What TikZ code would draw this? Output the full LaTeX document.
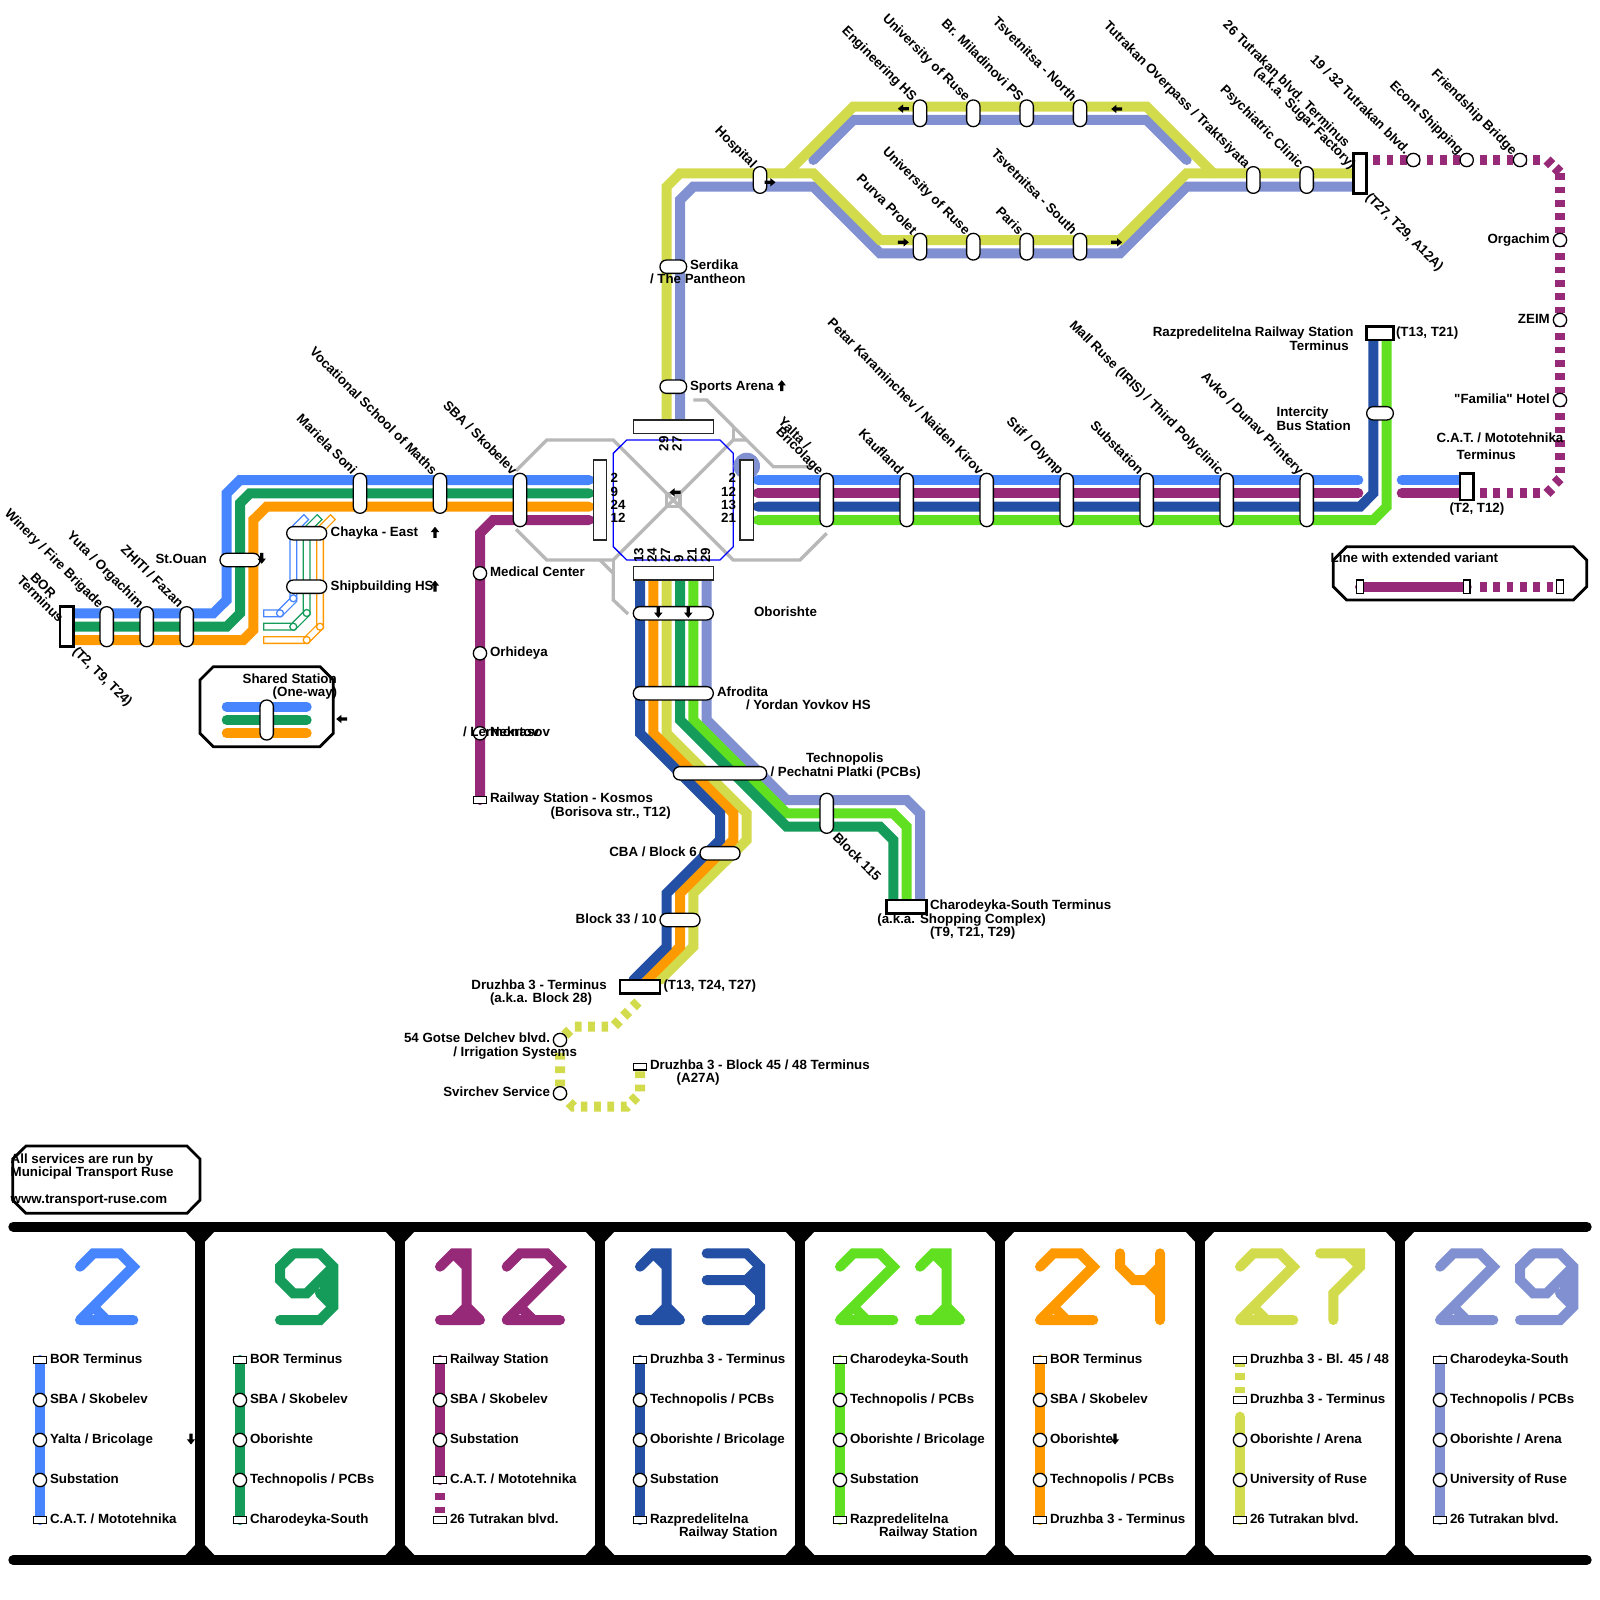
\documentclass[tikz,border=0pt]{standalone}
\usepackage{fontspec}
\setmainfont{Liberation Sans}[Ligatures=TeXOff]
\definecolor{cA}{HTML}{4785FF}
\definecolor{cB}{HTML}{169C5A}
\definecolor{cC}{HTML}{972A78}
\definecolor{cD}{HTML}{2350A5}
\definecolor{cE}{HTML}{60E020}
\definecolor{cF}{HTML}{FF9900}
\definecolor{cG}{HTML}{D2DB4C}
\definecolor{cH}{HTML}{8090D0}
\definecolor{walk}{HTML}{B8B8B8}
\newcounter{lbl}
\newcommand\mapT[4]{\stepcounter{lbl}\node[lbltxt,anchor=#1] (label\arabic{lbl}) at (#2,#3) {#4};}
\newcommand\mapR[3]{\stepcounter{lbl}\node[lbltxt,anchor=base east,rotate=-45] (label\arabic{lbl}) at ({#1+2.5},{#2+3}) {#3};}
\newcommand\mapW[3]{\stepcounter{lbl}\node[lbltxt,anchor=base west,rotate=-45] (label\arabic{lbl}) at (#1,#2) {#3};}
\newcommand\mapU[3]{\stepcounter{lbl}\node[lbltxt,anchor=base west,rotate=90] (label\arabic{lbl}) at (#1,#2) {#3};}
\newcommand\mapA[3]{\fill[black,shift={(#1,#2)},rotate=#3] (-5.5,-1.6)--(0.3,-1.6)--(0.3,-4.2)--(5.5,0)--(0.3,4.2)--(0.3,1.6)--(-5.5,1.6)--cycle;}
\newcommand\mapC[3]{\node[circstn] (#1) at (#2,#3) {};}
\newcommand\mapG[3]{\begin{scope}[shift={(#1,1253.33)},x=13.333pt,y=-13.333pt]#3\end{scope}}
\newcommand\gTwo[2]{\mapG{#1}{#2}{\draw[digit,#2] (0,1)--(1,0)--(3,0)--(4,1)--(0,5)--(4,5) (1,4)--(2,5) (0,5)--(0,5.001) (0,1)--(0,1.001);}}
\newcommand\gOne[2]{\mapG{#1}{#2}{\draw[digit,#2] (0,1)--(1,0)--(2,0)--(2,5) (0,5)--(3,5) (1,5)--(2,4)--(3,5) (1,0)--(2,1);}}
\newcommand\gNine[2]{\mapG{#1}{#2}{\fill[#2] (3,2)--(4,1)--(4,4)--(3,3)--cycle;\draw[digit,#2] (1,0)--(3,0)--(4,1)--(4,4)--(3,5)--(0,5) (1,0)--(0,1)--(0,2)--(1,3)--(2,3)--(4,1) (3,3)--(4,4);}}
\newcommand\gThree[2]{\mapG{#1}{#2}{\fill[#2] (3,2)--(4,1)--(4,3)--cycle;\draw[digit,#2] (0,0)--(3,0)--(4,1)--(4,4)--(3,5)--(0,5) (0,2)--(3,2)--(4,1) (3,2)--(4,3);}}
\newcommand\gFour[2]{\mapG{#1}{#2}{\fill[#2] (2,2)--(3,1)--(3,3)--cycle;\draw[digit,#2] (0,0)--(0,1)--(1,2)--(2,2)--(3,1) (3,0)--(3,5) (2,2)--(3,3);}}
\newcommand\gSeven[2]{\mapG{#1}{#2}{\draw[digit,#2] (0,0)--(3,0)--(3,1)--(1,3)--(1,5) (2,0)--(3,1);}}
\begin{document}
\begin{tikzpicture}[x=1pt,y=-1pt,
  lbltxt/.style={inner sep=0pt,outer sep=0pt,font=\fontsize{13.33}{13.33}\selectfont\bfseries},
  route/.style={line width=10pt,line cap=round,line join=miter,miter limit=3},
  dashroute/.style={line width=10pt,line cap=butt,dash pattern=on 6.67pt off 6.67pt},
  dashplain/.style={line width=10pt,line cap=butt},
  walkway/.style={walk,line width=3.3pt,line join=miter},
  ghost/.style={line width=8pt,line cap=butt,line join=miter},
  ghostin/.style={white,line width=5.3pt,line cap=butt,line join=miter},
  ghostdot/.style={circle,fill=white,line width=1.3pt,minimum size=7pt,inner sep=0pt},
  digit/.style={line width=10pt,line cap=round,line join=miter,miter limit=1.5},
  pillh/.style={draw=black,fill=white,line width=1.3pt,rounded corners=6.5pt,minimum height=13.33pt,inner sep=0pt},
  pillv/.style={draw=black,fill=white,line width=1.3pt,rounded corners=6.5pt,minimum width=13.33pt,inner sep=0pt},
  hubbar/.style={draw=black!85,fill=white,line width=1.3pt,inner sep=0pt},
  termbox/.style={draw=black,fill=white,line width=2.5pt,inner sep=0pt},
  smallterm/.style={draw=black,fill=white,line width=1.3pt,inner sep=0pt,minimum width=13.33pt,minimum height=6.67pt},
  smallv/.style={draw=black,fill=white,line width=1.3pt,inner sep=0pt,minimum width=6.67pt,minimum height=13.33pt},
  circstn/.style={circle,draw=black,fill=white,line width=1.3pt,inner sep=0pt,minimum size=13.33pt},
  framebox/.style={draw=black,fill=white,line width=2.8pt,line join=miter},
  bar/.style={black,line width=10pt,line cap=round},
  vbar/.style={black,line width=10pt,line cap=butt}]
\fill[white] (0,0) rectangle (1600,1600);
\useasboundingbox (0,0) rectangle (1600,1600);

% --- transfer walkways
\draw[walkway] (516,470.7)--(546.7,440)--(613.3,440)--(733.3,560)--(800,560)--(826.7,533.3);
\draw[walkway] (516,529.3)--(546.7,560)--(613.3,560)--(733.3,440)--(746.7,440);
\draw[walkway] (733.3,426.7)--(733.3,440);
\draw[walkway] (693.3,400)--(706.7,400)--(773.3,466.7)--(813.3,466.7);
\draw[walkway] (600,560)--(613.3,573.3)--(613.3,600)--(628,614);
\draw[walkway] (613.3,560)--(613.3,573.3);
\draw[walk,line width=3.3pt] (666.7,493.3) rectangle (680,506.7);
\draw[walk,line width=2pt] (666.7,493.3)--(680,506.7) (666.7,506.7)--(680,493.3);

% --- hub
\draw[blue,line width=1.3pt] (626.7,440)--(720,440)--(733.3,453.3)--(733.3,546.7)--(720,560)--(626.7,560)--(613.3,546.7)--(613.3,453.3)--cycle;
\fill[cH] (746.7,466) circle (13.3);

% --- ghost branch near Chayka
\draw[ghost,cA] (263,613.3)--(280,613.3)--(293.3,600)--(293.3,530)--(306.7,516.7);
\draw[ghost,cB] (263,626.7)--(293.3,626.7)--(306.7,613.3)--(306.7,530)--(320,516.7);
\draw[ghost,cF] (263,640)--(306.7,640)--(320,626.7)--(320,530)--(333.3,516.7);
\draw[ghostin] (264.3,613.3)--(280,613.3)--(293.3,600)--(293.3,530)--(305.7,517.7);
\draw[ghostin] (264.3,626.7)--(293.3,626.7)--(306.7,613.3)--(306.7,530)--(319,517.7);
\draw[ghostin] (264.3,640)--(306.7,640)--(320,626.7)--(320,530)--(332.3,517.7);
\node[ghostdot,draw=cA] (ga1) at (280,613.3) {};
\node[ghostdot,draw=cA] (ga2) at (293.3,598.3) {};
\node[ghostdot,draw=cB] (gb1) at (293.3,626.7) {};
\node[ghostdot,draw=cB] (gb2) at (306.7,613) {};
\node[ghostdot,draw=cF] (gc1) at (306.7,640) {};
\node[ghostdot,draw=cF] (gc2) at (320,626.7) {};

% --- routes
\draw[route,cA] (66,613.3)--(213.3,613.3)--(226.7,600)--(226.7,493.3)--(240,480)--(589,480);
\draw[route,cB] (66,626.7)--(226.7,626.7)--(240,613.3)--(240,503.3)--(250,493.3)--(589,493.3);
\draw[route,cF] (66,640)--(243.3,640)--(253.3,630)--(253.3,520)--(266.7,506.7)--(589,506.7);
\draw[route,cC] (589,520)--(493.3,520)--(480,533.3)--(480,800);

\draw[route,cA] (758,480)--(1358.3,480);
\draw[route,cA] (1401.7,480)--(1466,480);
\draw[route,cC] (758,493.3)--(1358.3,493.3);
\draw[route,cC] (1401.7,493.3)--(1466,493.3);
\draw[route,cD] (758,506.7)--(1360,506.7)--(1373.3,493.3)--(1373.3,333.3);
\draw[route,cE] (758,520)--(1373.3,520)--(1386.7,506.7)--(1386.7,333.3);

% dashed purple
\draw[dashroute,cC] (1373.3,160)--(1540,160);
\draw[dashplain,cC] (1547,160)--(1551.7,164.7);
\draw[dashplain,cC] (1555.2,167.6)--(1559.9,172.3);
\draw[dashroute,cC] (1560,173.3)--(1560,473.3);
\draw[dashplain,cC] (1560,478.6)--(1555.3,483.3);
\draw[dashplain,cC] (1551.7,488.6)--(1547,493.3);
\draw[dashroute,cC] (1480,493.3)--(1540,493.3);

% periwinkle and yellow upper routes
\draw[route,cH] (680,420)--(680,200)--(693.3,186.7)--(813.3,186.7)--(880,253.3)--(1120,253.3)--(1186.7,186.7)--(1355,186.7);
\draw[route,cH] (813.3,160)--(853.3,120)--(1146.7,120)--(1186.7,160);
\draw[route,cG] (666.7,420)--(666.7,186.7)--(680,173.3)--(813.3,173.3)--(880,240)--(1120,240)--(1186.7,173.3)--(1355,173.3);
\draw[route,cG] (786.7,173.3)--(853.3,106.7)--(1146.7,106.7)--(1213.3,173.3);

% lower routes
\draw[route,cH] (706.7,575)--(706.7,720)--(786.7,800)--(906.7,800)--(920,813.3)--(920,905);
\draw[route,cE] (693.3,575)--(693.3,720)--(786.7,813.3)--(893.3,813.3)--(906.7,826.7)--(906.7,905);
\draw[route,cB] (680,575)--(680,720)--(786.7,826.7)--(880,826.7)--(893.3,840)--(893.3,905);
\draw[route,cG] (666.7,575)--(666.7,733.3)--(746.7,813.3)--(746.7,840)--(693.3,893.3)--(693.3,946.7)--(660,980);
\draw[route,cF] (653.3,575)--(653.3,733.3)--(733.3,813.3)--(733.3,840)--(680,893.3)--(680,946.7)--(646.7,980);
\draw[route,cD] (640,575)--(640,733.3)--(720,813.3)--(720,840)--(666.7,893.3)--(666.7,946.7)--(633.3,980);
\draw[dashroute,cG] (638,1002)--(613.3,1026.7)--(573.3,1026.7)--(560,1040)--(560,1093.3)--(573.3,1106.7)--(626.7,1106.7)--(640,1093.3)--(640,1066.7);

% --- hub bars
\node[hubbar,minimum width=13.33pt,minimum height=80pt] (hubL) at (600,500) {};
\node[hubbar,minimum width=13.33pt,minimum height=80pt] (hubR) at (746.7,500) {};
\node[hubbar,minimum width=80pt,minimum height=13.33pt] (hubT) at (673.3,426.7) {};
\node[hubbar,minimum width=80pt,minimum height=13.33pt] (hubB) at (673.3,573.3) {};

% --- termini
\node[termbox,minimum width=13.33pt,minimum height=40pt] (borT) at (66.7,626.7) {};
\node[termbox,minimum width=13.33pt,minimum height=40pt] (tutT) at (1360,173.3) {};
\node[termbox,minimum width=13.33pt,minimum height=26.67pt] (catT) at (1466.7,486.7) {};
\node[termbox,minimum width=26.67pt,minimum height=13.33pt] (razT) at (1380,333.3) {};
\node[termbox,minimum width=40pt,minimum height=13.33pt] (charT) at (906.7,906.7) {};
\node[termbox,minimum width=40pt,minimum height=13.33pt] (druT) at (640,986.7) {};
\node[smallterm] (d45T) at (640,1066.7) {};
\node[smallterm] (kosT) at (480,800) {};

% --- vertical pills
\node[pillv,minimum height=40pt] (winery) at (106.7,626.7) {};
\node[pillv,minimum height=40pt] (yuta) at (146.7,626.7) {};
\node[pillv,minimum height=40pt] (zhiti) at (186.7,626.7) {};
\node[pillv,minimum height=40pt] (mariela) at (360,493.3) {};
\node[pillv,minimum height=40pt] (vocat) at (440,493.3) {};
\node[pillv,minimum height=53.33pt] (sba) at (520,500) {};
\foreach \n/\x in {yalta/826.7,kauf/906.7,petar/986.7,stif/1066.7,subst/1146.7,mall/1226.7,avko/1306.7}
  {\node[pillv,minimum height=53.33pt] (\n) at (\x,500) {};}
\foreach \n/\x in {eng/920,uniA/973.3,bra/1026.7,tsN/1080}
  {\node[pillv,minimum height=26.67pt] (\n) at (\x,113.3) {};}
\foreach \n/\x in {pur/920,uniB/973.3,par/1026.7,tsS/1080}
  {\node[pillv,minimum height=26.67pt] (\n) at (\x,246.7) {};}
\node[pillv,minimum height=26.67pt] (hosp) at (760,180) {};
\node[pillv,minimum height=26.67pt] (tutOv) at (1253.3,180) {};
\node[pillv,minimum height=26.67pt] (psy) at (1306.7,180) {};
\node[pillv,minimum height=40pt] (b115) at (826.7,813.3) {};

% --- horizontal pills
\node[pillh,minimum width=40pt] (stouan) at (240,560) {};
\node[pillh,minimum width=40pt] (chayka) at (306.7,533.3) {};
\node[pillh,minimum width=40pt] (shipb) at (306.7,586.7) {};
\node[pillh,minimum width=26.67pt] (serd) at (673.3,266.7) {};
\node[pillh,minimum width=26.67pt] (sport) at (673.3,386.7) {};
\node[pillh,minimum width=80pt] (obor) at (673.3,613.3) {};
\node[pillh,minimum width=80pt] (afro) at (673.3,693.3) {};
\node[pillh,minimum width=93.33pt] (techn) at (720,773.3) {};
\node[pillh,minimum width=40pt] (cba) at (720,853.3) {};
\node[pillh,minimum width=40pt] (b33) at (680,920) {};
\node[pillh,minimum width=26.67pt] (inter) at (1380,413.3) {};

% --- circle stations
\mapC{medc}{480}{573.3}\mapC{orhi}{480}{653.3}\mapC{nekr}{480}{733.3}
\mapC{gots}{560}{1040}\mapC{svir}{560}{1093.3}
\mapC{t19}{1413.3}{160}\mapC{econt}{1466.7}{160}\mapC{frie}{1520}{160}
\mapC{orga}{1560}{240}\mapC{zeim}{1560}{320}\mapC{fam}{1560}{400}

% --- arrows
\mapA{770}{182.3}{0}\mapA{903.3}{108.7}{180}\mapA{903.3}{242.3}{0}
\mapA{1116.7}{109}{180}\mapA{1116.7}{242.3}{0}\mapA{261.7}{558.3}{270}
\mapA{435}{532.3}{90}\mapA{435}{586}{90}\mapA{341.7}{719}{180}
\mapA{675}{492.3}{180}\mapA{658.3}{612.3}{270}\mapA{688.3}{612.3}{270}
\mapA{781.7}{385.7}{90}\mapA{191}{1439}{270}\mapA{1115}{1439}{270}

% --- hub numbers
\mapU{668.3}{451}{29}\mapU{681.7}{451}{27}
\mapU{643.3}{562.7}{13}\mapU{656.7}{562.7}{24}\mapU{670}{562.7}{27}
\mapU{683.3}{562.7}{9}\mapU{696.7}{562.7}{21}\mapU{710}{562.7}{29}
\mapT{base west}{610.7}{482.7}{2}\mapT{base west}{610.7}{496}{9}
\mapT{base west}{610.7}{509.3}{24}\mapT{base west}{610.7}{522.7}{12}
\mapT{base east}{736}{482.7}{2}\mapT{base east}{736}{496}{12}
\mapT{base east}{736}{509.3}{13}\mapT{base east}{736}{522.7}{21}

% --- rotated labels
\mapR{909}{99}{Engineering HS}
\mapR{962.3}{99}{University of Ruse}
\mapR{1015.7}{99}{Br. Miladinovi PS}
\mapR{1069}{99}{Tsvetnitsa - North}
\mapR{909}{232.3}{Purva Prolet}
\mapR{962.3}{232.3}{University of Ruse}
\mapR{1015.7}{232.3}{Paris}
\mapR{1069}{232.3}{Tsvetnitsa - South}
\mapR{749}{165.7}{Hospital}
\mapR{1242.3}{165.7}{Tutrakan Overpass / Traktsiyata}
\mapR{1295.7}{165.7}{Psychiatric Clinic}
\mapR{1342}{145}{26 Tutrakan blvd. Terminus}
\mapR{1348}{166.7}{(a.k.a. Sugar Factory)}
\mapR{1402.3}{152.3}{19 / 32 Tutrakan blvd.}
\mapR{1455.7}{152.3}{Econt Shipping}
\mapR{1509}{152.3}{Friendship Bridge}
\mapW{1365}{198}{(T27, T29, A12A)}
\mapR{95.7}{605.7}{Winery / Fire Brigade}
\mapR{135.7}{605.7}{Yuta / Orgachim}
\mapR{175.7}{605.7}{ZHITI / Fazan}
\mapR{48}{596}{BOR}
\mapR{55.5}{620}{Terminus}
\mapW{72}{652}{(T2, T9, T24)}
\mapR{349}{472.3}{Mariela Soni}
\mapR{429}{472.3}{Vocational School of Maths}
\mapR{509}{472.3}{SBA / Skobelev}
\mapR{802.4}{447}{Yalta /}
\mapR{815.7}{472.3}{Bricolage}
\mapR{895.7}{472.3}{Kaufland}
\mapR{975.7}{472.3}{Petar Karaminchev / Naiden Kirov}
\mapR{1055.7}{472.3}{Stif / Olymp}
\mapR{1135.7}{472.3}{Substation}
\mapR{1215.7}{472.3}{Mall Ruse (IRIS) / Third Polyclinic}
\mapR{1295.7}{472.3}{Avko / Dunav Printery}
\mapW{832}{838}{Block 115}

% --- horizontal labels
\mapT{base east}{206.7}{563.3}{St.Ouan}
\mapT{base west}{330.7}{536.7}{Chayka - East}
\mapT{base west}{330.7}{590}{Shipbuilding HS}
\mapT{base west}{690}{269.3}{Serdika}
\mapT{base west}{650}{283}{/ The Pantheon}
\mapT{base west}{690}{390}{Sports Arena}
\mapT{base west}{754}{616}{Oborishte}
\mapT{base west}{717}{696}{Afrodita}
\mapT{base west}{746}{709.3}{/ Yordan Yovkov HS}
\mapT{base west}{806}{762.7}{Technopolis}
\mapT{base west}{770.5}{776}{/ Pechatni Platki (PCBs)}
\mapT{base east}{696.7}{856}{CBA / Block 6}
\mapT{base east}{656.5}{923}{Block 33 / 10}
\mapT{base west}{663.5}{989.3}{(T13, T24, T27)}
\mapT{base east}{606.7}{989.3}{Druzhba 3 - Terminus}
\mapT{base west}{490}{1002.7}{(a.k.a. Block 28)}
\mapT{base west}{930}{909.7}{Charodeyka-South Terminus}
\mapT{base west}{877.3}{923}{(a.k.a. Shopping Complex)}
\mapT{base west}{930}{936.3}{(T9, T21, T29)}
\mapT{base west}{650}{1069.3}{Druzhba 3 - Block 45 / 48 Terminus}
\mapT{base west}{676.7}{1082.7}{(A27A)}
\mapT{base east}{550}{1042.7}{54 Gotse Delchev blvd.}
\mapT{base west}{453.3}{1056}{/ Irrigation Systems}
\mapT{base east}{550}{1096}{Svirchev Service}
\mapT{base west}{490}{576}{Medical Center}
\mapT{base west}{490}{656}{Orhideya}
\mapT{base west}{463}{736}{/ Lermontov}
\mapT{base west}{490}{736}{Nekrasov}
\mapT{base west}{490}{802.7}{Railway Station - Kosmos}
\mapT{base west}{550.7}{816}{(Borisova str., T12)}
\mapT{base east}{1353.5}{336.7}{Razpredelitelna Railway Station}
\mapT{base east}{1348.7}{350}{Terminus}
\mapT{base west}{1396}{336.7}{(T13, T21)}
\mapT{base west}{1276.6}{416.7}{Intercity}
\mapT{base west}{1276.6}{430}{Bus Station}
\mapT{base east}{1549.8}{243.2}{Orgachim}
\mapT{base east}{1549.8}{323.2}{ZEIM}
\mapT{base east}{1549.8}{403.2}{"Familia" Hotel}
\mapT{base west}{1436.7}{442.7}{C.A.T. / Mototehnika}
\mapT{base west}{1456.7}{459.7}{Terminus}
\mapT{base west}{1449.5}{512.7}{(T2, T12)}

% --- legend: extended variant
\draw[framebox] (1346.7,546.7)--(1573.3,546.7)--(1586.7,560)--(1586.7,586.7)--(1573.3,600)--(1346.7,600)--(1333.3,586.7)--(1333.3,560)--cycle;
\draw[route,cC] (1360,586.7)--(1466.7,586.7);
\draw[dashroute,cC] (1480,586.7)--(1553.3,586.7);
\node[smallv] (lgA) at (1360,586.7) {};
\node[smallv] (lgB) at (1466.7,586.7) {};
\node[smallv] (lgC) at (1560,586.7) {};
\mapT{base west}{1330.7}{562.7}{Line with extended variant}

% --- legend: shared station
\draw[framebox] (213.3,666.7)--(320,666.7)--(333.3,680)--(333.3,733.3)--(320,746.7)--(213.3,746.7)--(200,733.3)--(200,680)--cycle;
\draw[route,cA] (226.7,706.7)--(306.7,706.7);
\draw[route,cB] (226.7,720)--(306.7,720);
\draw[route,cF] (226.7,733.3)--(306.7,733.3);
\node[pillv,minimum height=40pt] (lgS) at (266.7,720) {};
\mapT{base west}{242.7}{683.3}{Shared Station}
\mapT{base west}{272.7}{696.7}{(One-way)}

% --- info box
\draw[framebox] (26,1146)--(187,1146)--(200,1159)--(200,1200)--(187,1213.3)--(26,1213.3)--(12.7,1200)--(12.7,1159)--cycle;
\mapT{base west}{10.7}{1163.3}{All services are run by}
\mapT{base west}{10.7}{1176.7}{Municipal Transport Ruse}
\mapT{base west}{10.7}{1203.3}{www.transport-ruse.com}

% --- frame of line panels
\draw[bar] (13.3,1226.7)--(1586.7,1226.7);
\draw[bar] (13.3,1560)--(1586.7,1560);
\foreach \x in {200,400,600,800,1000,1200,1400}{
  \draw[vbar] (\x,1226.7)--(\x,1560);
  \fill[black] (\x-15,1231) -- (\x+15,1231) -- (\x+5,1241.7) -- (\x-5,1241.7) -- cycle;
  \fill[black] (\x-15,1555.7) -- (\x+15,1555.7) -- (\x+5,1545) -- (\x-5,1545) -- cycle;
}

% --- big numbers
\gTwo{80}{cA}
\gNine{280}{cB}
\gOne{440}{cC}\gTwo{506.7}{cC}
\gOne{640}{cD}\gThree{706.7}{cD}
\gTwo{840}{cE}\gOne{920}{cE}
\gTwo{1040}{cF}\gFour{1120}{cF}
\gTwo{1240}{cG}\gSeven{1320}{cG}
\gTwo{1440}{cH}\gNine{1520}{cH}

% --- panel strips
\draw[route,cA] (40,1360)--(40,1520);
\draw[route,cB] (240,1360)--(240,1520);
\draw[route,cC] (440,1360)--(440,1480);
\draw[dashplain,cC] (440,1493.3)--(440,1500) (440,1506.7)--(440,1513.3);
\draw[route,cD] (640,1360)--(640,1520);
\draw[route,cE] (840,1360)--(840,1520);
\draw[route,cF] (1040,1360)--(1040,1520);
\draw[dashplain,cG] (1240,1362)--(1240,1367) (1240,1373.3)--(1240,1380) (1240,1386.7)--(1240,1393.3);
\draw[route,cG] (1240,1416.7)--(1240,1520);
\draw[route,cH] (1440,1360)--(1440,1520);

\foreach \x/\p in {40/a,240/b,440/c,640/d,840/e,1040/f,1240/g,1440/h}{
  \node[smallterm] (ps\p1) at (\x,1360) {};
  \node[smallterm] (ps\p5) at (\x,1520) {};
}
\foreach \x/\p in {40/a,240/b,440/c,640/d,840/e,1040/f,1240/g,1440/h}{
  \node[circstn] (ps\p3) at (\x,1440) {};
}
\foreach \x/\p in {40/a,240/b,440/c,640/d,840/e,1040/f,1240/g,1440/h}{
  \ifnum\x=1240 \node[smallterm] (ps\p2) at (\x,1400) {};\else \node[circstn] (ps\p2) at (\x,1400) {};\fi
  \ifnum\x=440 \node[smallterm] (ps\p4) at (\x,1480) {};\else \node[circstn] (ps\p4) at (\x,1480) {};\fi
}

\mapT{base west}{50}{1363}{BOR Terminus}\mapT{base west}{50}{1403}{SBA / Skobelev}
\mapT{base west}{50}{1443}{Yalta / Bricolage}\mapT{base west}{50}{1483}{Substation}
\mapT{base west}{50}{1523}{C.A.T. / Mototehnika}
\mapT{base west}{250}{1363}{BOR Terminus}\mapT{base west}{250}{1403}{SBA / Skobelev}
\mapT{base west}{250}{1443}{Oborishte}\mapT{base west}{250}{1483}{Technopolis / PCBs}
\mapT{base west}{250}{1523}{Charodeyka-South}
\mapT{base west}{450}{1363}{Railway Station}\mapT{base west}{450}{1403}{SBA / Skobelev}
\mapT{base west}{450}{1443}{Substation}\mapT{base west}{450}{1483}{C.A.T. / Mototehnika}
\mapT{base west}{450}{1523}{26 Tutrakan blvd.}
\mapT{base west}{650}{1363}{Druzhba 3 - Terminus}\mapT{base west}{650}{1403}{Technopolis / PCBs}
\mapT{base west}{650}{1443}{Oborishte / Bricolage}\mapT{base west}{650}{1483}{Substation}
\mapT{base west}{650}{1523}{Razpredelitelna}\mapT{base west}{679}{1536.3}{Railway Station}
\mapT{base west}{850}{1363}{Charodeyka-South}\mapT{base west}{850}{1403}{Technopolis / PCBs}
\mapT{base west}{850}{1443}{Oborishte / Bricolage}\mapT{base west}{850}{1483}{Substation}
\mapT{base west}{850}{1523}{Razpredelitelna}\mapT{base west}{879}{1536.3}{Railway Station}
\mapT{base west}{1050}{1363}{BOR Terminus}\mapT{base west}{1050}{1403}{SBA / Skobelev}
\mapT{base west}{1050}{1443}{Oborishte}\mapT{base west}{1050}{1483}{Technopolis / PCBs}
\mapT{base west}{1050}{1523}{Druzhba 3 - Terminus}
\mapT{base west}{1250}{1363}{Druzhba 3 - Bl. 45 / 48}\mapT{base west}{1250}{1403}{Druzhba 3 - Terminus}
\mapT{base west}{1250}{1443}{Oborishte / Arena}\mapT{base west}{1250}{1483}{University of Ruse}
\mapT{base west}{1250}{1523}{26 Tutrakan blvd.}
\mapT{base west}{1450}{1363}{Charodeyka-South}\mapT{base west}{1450}{1403}{Technopolis / PCBs}
\mapT{base west}{1450}{1443}{Oborishte / Arena}\mapT{base west}{1450}{1483}{University of Ruse}
\mapT{base west}{1450}{1523}{26 Tutrakan blvd.}
\end{tikzpicture}
\end{document}
